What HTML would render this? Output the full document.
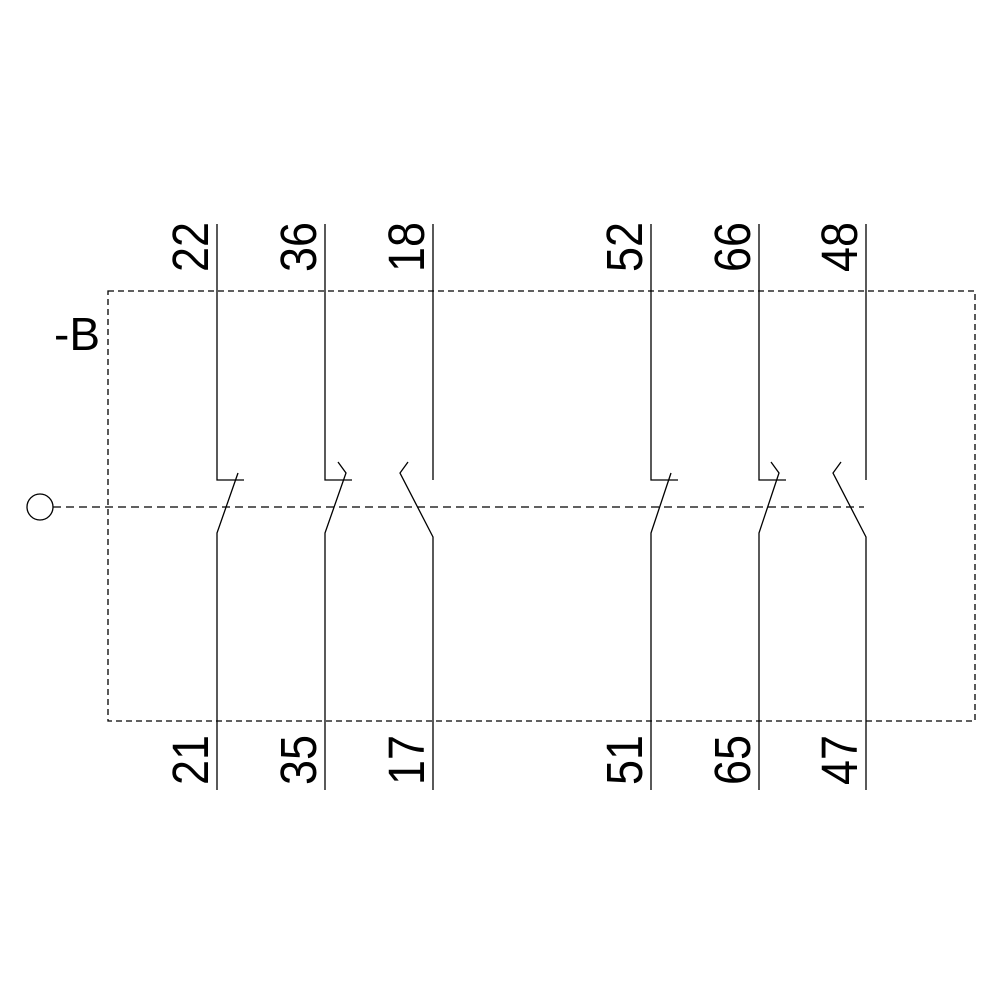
<!DOCTYPE html>
<html><head><style>html,body{margin:0;padding:0;background:#fff}</style></head><body>
<svg width="1000" height="1000" xmlns="http://www.w3.org/2000/svg" style="display:block">
<g fill="none" stroke="#000" stroke-width="1.3">
<rect x="108" y="291" width="867" height="430" stroke-dasharray="6,4"/>
<line x1="53" y1="507" x2="864" y2="507" stroke-dasharray="8,5"/>
<circle cx="40" cy="507" r="13"/>
<polyline points="217,224 217,480 244,480"/>
<polyline points="217,790 217,533 238,473"/>
<polyline points="325,224 325,480 352,480"/>
<polyline points="325,790 325,533 346,473 338,462"/>
<line x1="433" y1="224" x2="433" y2="480"/>
<polyline points="433,790 433,537 400,473 408,462"/>
<polyline points="651,224 651,480 678,480"/>
<polyline points="651,790 651,533 671,473"/>
<polyline points="759,224 759,480 786,480"/>
<polyline points="759,790 759,533 779,473 771,462"/>
<line x1="866" y1="224" x2="866" y2="480"/>
<polyline points="866,790 866,537 833,473 841,462"/>
</g>
<g font-family="Liberation Sans, sans-serif" font-size="51" text-anchor="middle" fill="#000">
<text transform="translate(208,247) rotate(-90)" textLength="50" lengthAdjust="spacingAndGlyphs">22</text>
<text transform="translate(316,247) rotate(-90)" textLength="50" lengthAdjust="spacingAndGlyphs">36</text>
<text transform="translate(424,247) rotate(-90)" textLength="50" lengthAdjust="spacingAndGlyphs">18</text>
<text transform="translate(642,247) rotate(-90)" textLength="50" lengthAdjust="spacingAndGlyphs">52</text>
<text transform="translate(750,247) rotate(-90)" textLength="50" lengthAdjust="spacingAndGlyphs">66</text>
<text transform="translate(857,247) rotate(-90)" textLength="50" lengthAdjust="spacingAndGlyphs">48</text>
<text transform="translate(208,760) rotate(-90)" textLength="50" lengthAdjust="spacingAndGlyphs">21</text>
<text transform="translate(316,760) rotate(-90)" textLength="50" lengthAdjust="spacingAndGlyphs">35</text>
<text transform="translate(424,760) rotate(-90)" textLength="50" lengthAdjust="spacingAndGlyphs">17</text>
<text transform="translate(642,760) rotate(-90)" textLength="50" lengthAdjust="spacingAndGlyphs">51</text>
<text transform="translate(750,760) rotate(-90)" textLength="50" lengthAdjust="spacingAndGlyphs">65</text>
<text transform="translate(857,760) rotate(-90)" textLength="50" lengthAdjust="spacingAndGlyphs">47</text>
<text x="77" y="350" font-size="46">-B</text>
</g>
</svg>
</body></html>
